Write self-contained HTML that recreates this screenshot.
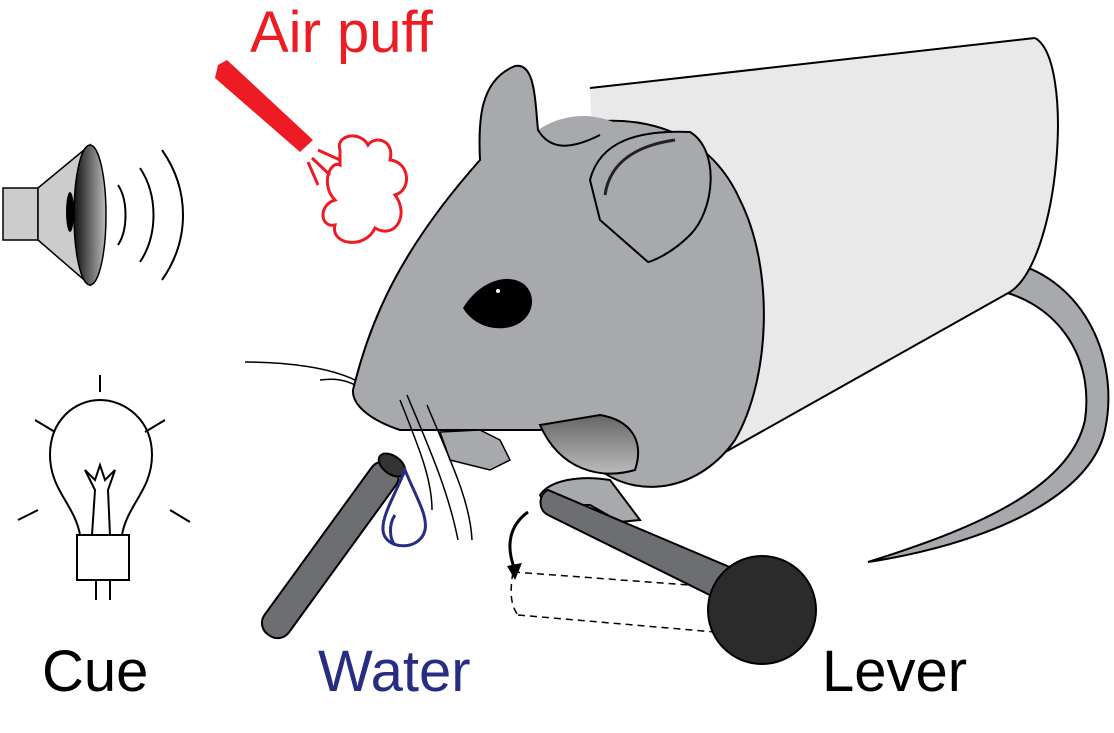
<!DOCTYPE html>
<html><head><style>
html,body{margin:0;padding:0;background:#fff;}
svg{display:block;}
text{font-family:"Liberation Sans",Arial,sans-serif;}
</style></head><body>
<svg width="1114" height="733" viewBox="0 0 1114 733" xmlns="http://www.w3.org/2000/svg">
<defs>
<linearGradient id="cone" x1="0" x2="1"><stop offset="0" stop-color="#111"/><stop offset="1" stop-color="#bbb"/></linearGradient>
<linearGradient id="paw" x1="0" y1="0" x2="0" y2="1"><stop offset="0" stop-color="#666"/><stop offset="1" stop-color="#bbb"/></linearGradient>
</defs>

<!-- tail -->
<path d="M1010,262 C1085,280 1120,360 1105,430 C1090,500 980,545 868,562 C970,530 1070,490 1085,420 C1095,350 1050,300 995,290 Z" fill="#a7a9ac" stroke="#000" stroke-width="2"/>

<!-- tube -->
<path d="M590,88 L1035,38 C1075,60 1060,260 1010,292 L720,455 L600,300 Z" fill="#e9e9ea"/>
<path d="M590,88 L1035,38" stroke="#000" stroke-width="2" fill="none"/>
<path d="M1035,38 C1075,60 1060,260 1010,292" stroke="#000" stroke-width="2" fill="none"/>
<path d="M1010,292 L720,455" stroke="#000" stroke-width="2" fill="none"/>

<!-- body round -->
<path d="M540,135 C600,110 700,110 740,200 C775,270 770,380 735,440 C700,490 640,500 600,470 L540,300 Z" fill="#a7a9ac" stroke="#000" stroke-width="2"/>

<!-- head fill -->
<path d="M480,160 C478,120 480,80 515,66 C535,62 535,100 538,130 C560,115 590,110 620,125 L700,200 L700,420 L630,430 L400,430 C370,420 352,405 353,390 C370,320 400,250 480,160 Z" fill="#a7a9ac"/>
<!-- head outline -->
<path d="M630,430 L400,430 C370,420 352,405 353,390 C370,320 400,250 480,160 C478,120 480,80 515,66 C535,62 535,100 538,130 C550,150 570,150 600,135" fill="none" stroke="#000" stroke-width="2"/>
<!-- right ear -->
<path d="M590,180 C600,140 640,130 690,132 C720,150 715,210 690,235 C670,255 650,262 648,262 L600,220 Z" fill="#a7a9ac" stroke="#000" stroke-width="2"/>
<path d="M605,195 C610,160 640,145 675,140" fill="none" stroke="#222" stroke-width="3"/>
<!-- eye -->
<path d="M463,308 C480,280 510,272 525,285 C540,300 530,325 505,328 C485,330 470,320 463,308 Z" fill="#000"/>
<circle cx="498" cy="291" r="2" fill="#fff"/>
<!-- paws -->
<path d="M540,425 C560,470 600,480 635,470 C645,440 630,420 600,415 Z" fill="url(#paw)" stroke="#000" stroke-width="2"/>
<path d="M540,495 C550,480 580,475 610,480 L640,520 L620,522 L590,505 L545,505 Z" fill="#a7a9ac" stroke="#000" stroke-width="2"/>
<path d="M440,432 L480,430 L500,440 L510,460 L490,470 L470,465 L450,460 Z" fill="#a7a9ac" stroke="#000" stroke-width="1.5"/>
<!-- whiskers -->
<g fill="none" stroke="#000" stroke-width="1.5">
<path d="M245,362 C290,362 330,368 355,380"/>
<path d="M320,380 C335,378 345,380 355,385"/>
<path d="M407,395 C430,450 448,490 458,540"/>
<path d="M400,400 C420,450 432,480 432,510"/>
<path d="M427,405 C450,460 470,500 472,540"/>
</g>

<!-- water tube -->
<g transform="rotate(36 392 465)">
<rect x="377" y="465" width="30" height="210" rx="14" fill="#6d6e71" stroke="#000" stroke-width="2"/>
<ellipse cx="392" cy="465" rx="15" ry="9" fill="#333" stroke="#000" stroke-width="2"/>
</g>
<path d="M405,470 C395,495 382,515 383,530 C384,550 420,552 425,530 C428,515 415,495 405,470 Z" fill="none" stroke="#262d82" stroke-width="3"/>
<path d="M395,515 C388,525 390,540 395,545" fill="none" stroke="#262d82" stroke-width="3"/>

<!-- lever -->
<path d="M513,572 L730,588 M518,615 L715,632 M513,572 C510,590 510,605 518,615" fill="none" stroke="#000" stroke-width="1.5" stroke-dasharray="7,5"/>
<path d="M548,490 C538,495 538,510 548,515 L740,610 L760,580 Z" fill="#6d6e71" stroke="#000" stroke-width="2"/>
<circle cx="762" cy="610" r="54" fill="#2b2b2b" stroke="#000" stroke-width="2"/>
<path d="M528,512 C510,525 505,545 515,570" fill="none" stroke="#000" stroke-width="3"/>
<path d="M507,566 L515,580 L522,563 Z" fill="#000"/>

<!-- speaker -->
<rect x="3" y="188" width="35" height="52" fill="#ccc" stroke="#000" stroke-width="1.5"/>
<path d="M38,188 L90,145 L90,285 L38,240 Z" fill="#ccc" stroke="#000" stroke-width="1.5"/>
<ellipse cx="90" cy="215" rx="16" ry="70" fill="url(#cone)" stroke="#000" stroke-width="1.5"/>
<ellipse cx="70" cy="212" rx="4" ry="20" fill="#000"/>
<g fill="none" stroke="#000" stroke-width="2">
<path d="M118,185 C128,200 128,230 118,245"/>
<path d="M140,168 C158,195 158,235 140,262"/>
<path d="M162,150 C190,190 190,240 162,280"/>
</g>

<!-- bulb -->
<g fill="none" stroke="#000" stroke-width="2">
<path d="M80,535 C75,505 50,490 50,455 C50,420 75,400 100,400 C125,400 152,420 152,455 C152,490 127,505 122,535"/>
<path d="M92,535 L95,490 L85,470 L95,480 L100,465 L105,480 L115,470 L108,490 L110,535"/>
<line x1="100" y1="375" x2="100" y2="392"/>
<line x1="35" y1="420" x2="55" y2="432"/><line x1="165" y1="420" x2="145" y2="432"/>
<line x1="18" y1="520" x2="38" y2="510"/><line x1="190" y1="522" x2="170" y2="510"/>
<line x1="96" y1="580" x2="96" y2="600"/><line x1="110" y1="580" x2="110" y2="600"/>
</g>
<rect x="77" y="535" width="52" height="45" fill="#fff" stroke="#000" stroke-width="2"/>

<!-- air puff -->
<path d="M218,65 L227,60 L313,140 L300,152 L215,78 Z" fill="#ed1c24"/>
<g stroke="#ed1c24" stroke-width="3" fill="none">
<path d="M318,150 L340,160 M312,158 L330,175 M308,162 L318,185"/>
<path d="M340,150 C335,135 360,130 368,145 C375,135 395,140 390,160 C410,162 412,190 395,195 C410,215 395,240 375,228 C365,250 330,245 335,225 C320,228 318,205 335,200 C320,185 330,160 340,165 Z"/>
</g>

<!-- labels -->
<text x="250" y="52" font-size="58" fill="#ed1c24">Air puff</text>
<text x="42" y="691" font-size="58" fill="#000">Cue</text>
<text x="318" y="691" font-size="58" fill="#262d82">Water</text>
<text x="822" y="691" font-size="58" fill="#000">Lever</text>
</svg>
</body></html>
